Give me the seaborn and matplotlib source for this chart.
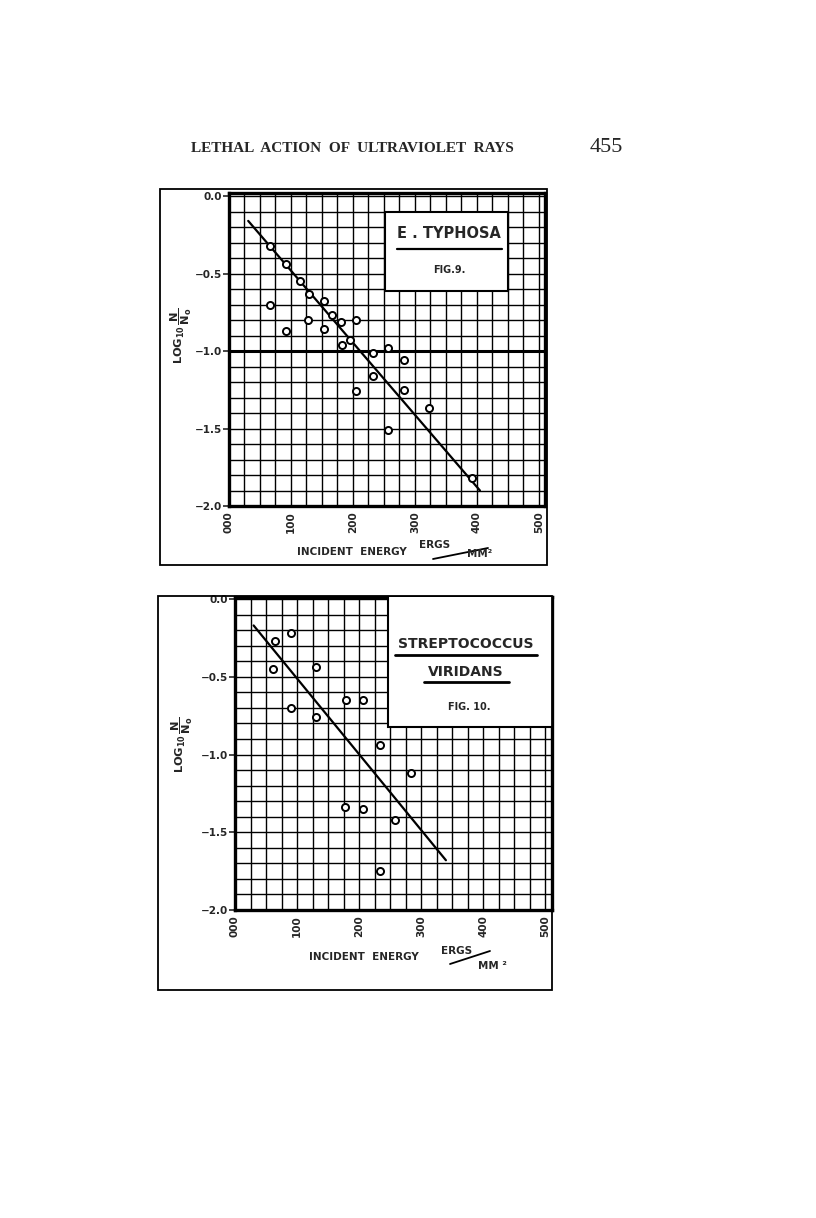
import numpy as np
import pandas as pd
import matplotlib
matplotlib.use("Agg")
import matplotlib.pyplot as plt
import seaborn as sns
from matplotlib.patches import Rectangle
from matplotlib.lines import Line2D

# ---------------- data ----------------
typh_energy = [66, 92, 115, 129, 154, 166, 181, 205, 66, 92, 128, 154, 183, 195,
               232, 257, 282, 232, 205, 282, 322, 257, 392]
typh_log = [-0.32, -0.44, -0.55, -0.63, -0.68, -0.77, -0.81, -0.80, -0.70, -0.87,
            -0.80, -0.86, -0.96, -0.93, -1.01, -0.98, -1.06, -1.16, -1.26, -1.25,
            -1.37, -1.51, -1.82]
typh_fit_x = [31, 405]
typh_fit_y = [-0.16, -1.90]

strep_energy = [64, 90, 61, 130, 91, 130, 179, 206, 233, 284, 177, 207, 258, 234]
strep_log = [-0.27, -0.22, -0.45, -0.44, -0.70, -0.76, -0.65, -0.65, -0.94, -1.12,
             -1.34, -1.35, -1.42, -1.75]
strep_fit_x = [30, 340]
strep_fit_y = [-0.17, -1.68]

x_ticks = [0, 100, 200, 300, 400, 500]
x_ticklabels = ["000", "100", "200", "300", "400", "500"]
y_ticks = [0.0, -0.5, -1.0, -1.5, -2.0]
y_ticklabels = ["0.0", "\u22120.5", "\u22121.0", "\u22121.5", "\u22122.0"]

header_text = "LETHAL  ACTION  OF  ULTRAVIOLET  RAYS"
page_number = "455"

# ---------------- figure ----------------
sns.set_style("white")
plt.rcParams["font.family"] = ["DejaVu Sans"]
plt.rcParams["mathtext.fontset"] = "dejavusans"
W, H = 816, 1218
fig = plt.figure(figsize=(W / 100, H / 100), dpi=100)
fig.patch.set_facecolor("white")


def fx(px):
    return px / W


def fy(py):
    return 1 - py / H


def box(l, t, r, b, lw=1.3):
    fig.patches.append(Rectangle((fx(l), fy(b)), fx(r) - fx(l), fy(t) - fy(b),
                                 transform=fig.transFigure, fill=False,
                                 edgecolor="black", linewidth=lw, zorder=0))


def flin(x0, y0, x1, y1, lw=1.3):
    fig.lines.append(Line2D([fx(x0), fx(x1)], [fy(y0), fy(y1)],
                            transform=fig.transFigure, color="black", linewidth=lw))


def panel(l, t, r, b, xmax, ytop, xs, ys, fx_, fy_, heavy_minus1):
    ax = fig.add_axes([fx(l), fy(b), fx(r) - fx(l), fy(t) - fy(b)])
    ax.set_xlim(0, xmax)
    ax.set_ylim(-2.0, ytop)
    # grid
    for gx in np.arange(25, xmax, 25):
        ax.axvline(gx, color="black", lw=1.0, zorder=1)
    for gy in np.arange(-1.9, ytop, 0.1):
        w = 2.2 if (heavy_minus1 and abs(gy + 1.0) < 1e-6) else 1.0
        ax.axhline(gy, color="black", lw=w, zorder=1)
    for s in ax.spines.values():
        s.set_linewidth(2.4)
        s.set_color("black")
    ax.set_xticks(x_ticks)
    ax.set_xticklabels(x_ticklabels, rotation=90, fontsize=7.5, fontweight="bold")
    ax.set_yticks(y_ticks)
    ax.set_yticklabels(y_ticklabels, fontsize=7.5, fontweight="bold")
    ax.tick_params(axis="y", length=4, width=1.2, pad=1, direction="out", left=True)
    ax.tick_params(axis="x", length=0, pad=4)
    df = pd.DataFrame({"energy": xs, "log": ys})
    sns.lineplot(x=fx_, y=fy_, ax=ax, color="black", lw=1.6, zorder=3)
    sns.scatterplot(data=df, x="energy", y="log", ax=ax, marker="o", s=26,
                    facecolor="white", edgecolor="black", linewidth=1.4, zorder=4)
    ax.set_xlabel("")
    ax.set_ylabel("")
    return ax


ylabel = r"LOG$_{\mathbf{10}}\,\dfrac{\mathbf{N}}{\mathbf{N_o}}$"

# ---- header ----
fig.text(fx(352), fy(149), header_text, family=["Liberation Serif", "DejaVu Serif"],
         fontweight="bold", fontsize=11, ha="center", va="center")
fig.text(fx(606), fy(148), page_number, family=["Liberation Serif", "DejaVu Serif"],
         fontsize=16, ha="center", va="center")

# ---- Fig. 9 ----
box(160, 189, 547, 565)
ax1 = panel(229, 193, 545, 506, 510, 0.02, typh_energy, typh_log,
            typh_fit_x, typh_fit_y, True)
ax1.add_patch(Rectangle((252, -0.61), 198, 0.51, facecolor="white",
                        edgecolor="black", lw=1.5, zorder=5))
ax1.text(355, -0.24, "E . TYPHOSA", fontsize=10.5, fontweight="bold",
         ha="center", va="center", zorder=6)
ax1.plot([271, 440], [-0.34, -0.34], color="black", lw=1.6, zorder=6)
ax1.text(355, -0.48, "FIG.9.", fontsize=7, fontweight="bold",
         ha="center", va="center", zorder=6)
fig.text(fx(181), fy(336), ylabel,
         rotation=90, fontsize=8.2, fontweight="bold", ha="center", va="center")
fig.text(fx(352), fy(552), "INCIDENT  ENERGY", fontsize=7.5, fontweight="bold",
         ha="center", va="center")
fig.text(fx(435), fy(545), "ERGS", fontsize=7.5, fontweight="bold",
         ha="center", va="center")
fig.text(fx(480), fy(554), "MM²", fontsize=7.5, fontweight="bold",
         ha="center", va="center")
flin(433, 559, 488, 548)

# ---- Fig. 10 ----
box(158, 596, 552, 990)
ax2 = panel(235, 597, 552, 910, 511, 0.013, strep_energy, strep_log,
            strep_fit_x, strep_fit_y, False)
ax2.add_patch(Rectangle((247, -0.82), 270, 0.9, facecolor="white",
                        edgecolor="black", lw=1.5, zorder=5, clip_on=True))
ax2.text(372, -0.29, "STREPTOCOCCUS", fontsize=10, fontweight="bold",
         ha="center", va="center", zorder=6)
ax2.plot([258, 487], [-0.36, -0.36], color="black", lw=2.0, zorder=6)
ax2.text(372, -0.47, "VIRIDANS", fontsize=10, fontweight="bold",
         ha="center", va="center", zorder=6)
ax2.plot([304, 441], [-0.535, -0.535], color="black", lw=2.0, zorder=6)
ax2.text(378, -0.695, "FIG. 10.", fontsize=7, fontweight="bold",
         ha="center", va="center", zorder=6)
fig.text(fx(182), fy(745), ylabel,
         rotation=90, fontsize=8.2, fontweight="bold", ha="center", va="center")
fig.text(fx(364), fy(957), "INCIDENT  ENERGY", fontsize=7.5, fontweight="bold",
         ha="center", va="center")
fig.text(fx(457), fy(951), "ERGS", fontsize=7.5, fontweight="bold",
         ha="center", va="center")
fig.text(fx(492), fy(966), "MM ²", fontsize=7.5, fontweight="bold",
         ha="center", va="center")
flin(450, 964, 490, 951)

fig.savefig("out.png", dpi=100, facecolor="white")
